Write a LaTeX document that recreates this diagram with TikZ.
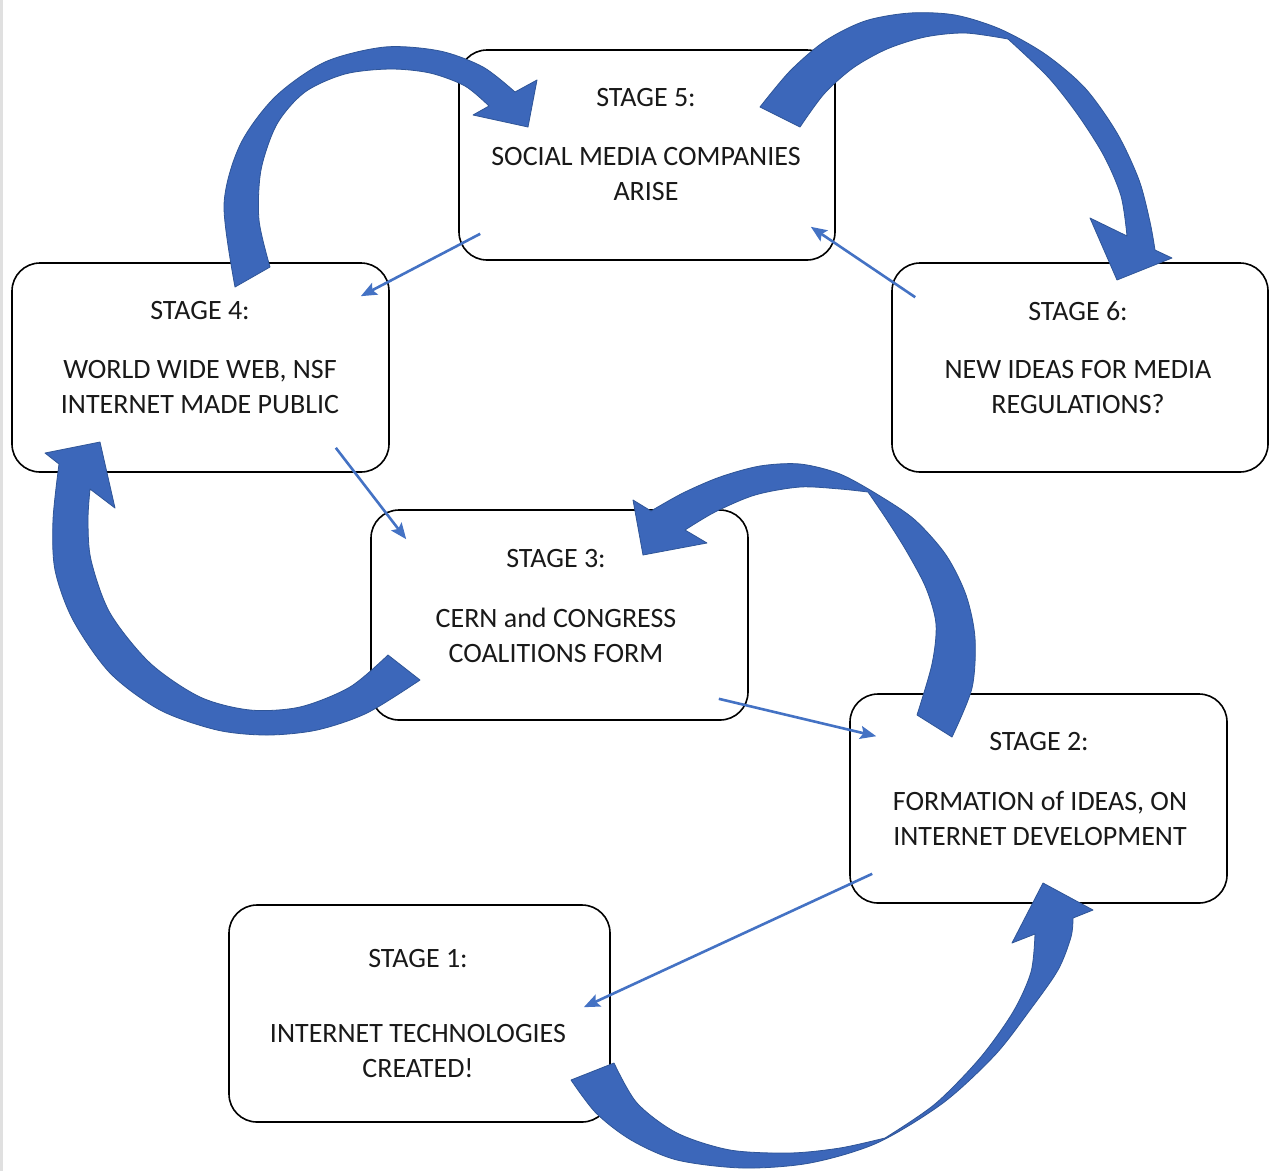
\documentclass[tikz,border=0pt]{standalone}
\usepackage{fontspec}
\setmainfont{Carlito}
\usetikzlibrary{arrows.meta}
\definecolor{arcblue}{RGB}{60,103,186}
\definecolor{arcedge}{RGB}{47,85,151}
\definecolor{linkblue}{RGB}{68,114,196}
\begin{document}
\begin{tikzpicture}[x=1pt,y=-1pt,
  box/.style={draw=black, line width=1.6pt, fill=white, rounded corners=28pt, inner sep=0pt},
  hd/.style={inner sep=0pt, font=\fontsize{28}{35}\selectfont, text=black!90},
  bd/.style={inner sep=0pt, align=center, font=\fontsize{28}{35}\selectfont, text=black!90},
  bigarrow/.style={fill=arcblue, draw=arcedge, line width=0.8pt, line join=round},
  link/.style={draw=linkblue, line width=2.6pt, -{Stealth[length=16pt,width=13pt,inset=3pt]}}]
\useasboundingbox (0,0) rectangle (1272,1171);
\fill[white] (0,0) rectangle (1272,1171);
\fill[black!12] (0,0) rectangle (3,1171);

% boxes
\node[box, minimum width=376pt, minimum height=210pt] (s5) at (647,155) {};
\node[box, minimum width=377pt, minimum height=209pt] (s4) at (200.5,367.5) {};
\node[box, minimum width=376pt, minimum height=209pt] (s6) at (1080,367.5) {};
\node[box, minimum width=377pt, minimum height=210pt] (s3) at (559.5,615) {};
\node[box, minimum width=377pt, minimum height=209pt] (s2) at (1038.5,798.5) {};
\node[box, minimum width=381pt, minimum height=217pt] (s1) at (419.5,1013.5) {};

% texts
\node[hd] (h5) at (646,98) {STAGE 5:};
\node[bd] (b5) at (646,174.5) {SOCIAL MEDIA COMPANIES\\ARISE};
\node[hd] (h4) at (200,311) {STAGE 4:};
\node[bd] (b4) at (200,387.5) {WORLD WIDE WEB, NSF\\INTERNET MADE PUBLIC};
\node[hd] (h6) at (1078,311) {STAGE 6:};
\node[bd] (b6) at (1078,387.5) {NEW IDEAS FOR MEDIA\\REGULATIONS?};
\node[hd] (h3) at (556,559) {STAGE 3:};
\node[bd] (b3) at (556,635.5) {CERN and CONGRESS\\COALITIONS FORM};
\node[hd] (h2) at (1039,742) {STAGE 2:};
\node[bd] (b2) at (1040,818.5) {FORMATION of IDEAS, ON\\INTERNET DEVELOPMENT};
\node[hd] (h1) at (418,959) {STAGE 1:};
\node[bd] (b1) at (418,1050.5) {INTERNET TECHNOLOGIES\\CREATED!};

% big curved arrows
% A: stage 4 -> stage 5
\filldraw[bigarrow] plot[smooth] coordinates {(235,287) (224,205) (240,145) (275,97) (325,62) (385,47) (440,51) (483,67) (515,92)}
  -- (537,80) -- (528,127) -- (473,115)
  -- plot[smooth] coordinates {(489,106) (465,86) (430,73) (390,69) (345,74) (305,92) (277,124) (261,170) (259,220) (270,267)} -- cycle;
% B: stage 5 -> stage 6
\filldraw[bigarrow] plot[smooth] coordinates {(760,107) (790,71) (825,41) (865,21) (910,13) (955,15) (1000,29) (1045,54) (1085,88) (1117,133) (1139,180) (1150,222) (1155,250)}
  -- (1172,258) -- (1117,280) -- (1090,218)
  -- plot[smooth] coordinates {(1127,236) (1121,196) (1104,156) (1078,115) (1048,77) (1008,39)}
  -- plot[smooth] coordinates {(1008,39) (965,33) (925,37) (887,49) (853,68) (824,94) (800,127)} -- cycle;
% C: stage 3 -> stage 4
\filldraw[bigarrow] plot[smooth] coordinates {(420,680) (367,713) (317,730) (267,735) (217,730) (160,710) (110,673) (73,620) (55,570) (53,520) (59,464)}
  -- (45,453) -- (100,442) -- (115,508)
  -- plot[smooth] coordinates {(90,489) (88,520) (91,560) (110,613) (150,663) (200,697) (250,710) (300,707) (350,687) (388,655)} -- cycle;
% D: stage 2 -> stage 3
\filldraw[bigarrow] plot[smooth] coordinates {(952,737) (972,688) (975,638) (966,595) (946,555) (915,520) (880,496) (840,474) (800,464) (760,466) (720,477) (683,493) (651,511)}
  -- (633,500) -- (643,555) -- (707,543)
  -- plot[smooth] coordinates {(685,530) (715,512) (755,495) (800,487) (840,489) (868,492)}
  -- plot[smooth] coordinates {(868,492) (887,520) (907,552) (926,588) (936,624) (932,664) (917,715)} -- cycle;
% E: stage 1 -> stage 2
\filldraw[bigarrow] plot[smooth] coordinates {(571,1080) (596,1113) (631,1140) (677,1160) (743,1168) (810,1163) (877,1143) (943,1103) (995,1055) (1030,1010) (1058,970) (1071,937) (1073,918)}
  -- (1093,910) -- (1043,883) -- (1012,943)
  -- plot[smooth] coordinates {(1035,934) (1031,972) (1013,1012) (980,1058) (935,1104) (885,1138)}
  -- plot[smooth] coordinates {(885,1138) (840,1148) (790,1153) (730,1150) (677,1133) (637,1103) (614,1063)} -- cycle;

% thin connectors
\draw[link] ([shift={(22,-27)}]s5.south west) -- ([shift={(-29,34)}]s4.north east);
\draw[link] ([shift={(24,35)}]s6.north west) -- ([shift={(-25,-34)}]s5.south east);
\draw[link] ([shift={(-54,-25)}]s4.south east) -- ([shift={(36,30)}]s3.north west);
\draw[link] ([shift={(-30,-22)}]s3.south east) -- ([shift={(27,43)}]s2.north west);
\draw[link] ([shift={(23,-30)}]s2.south west) -- ([shift={(-27,103)}]s1.north east);
\end{tikzpicture}
\end{document}
